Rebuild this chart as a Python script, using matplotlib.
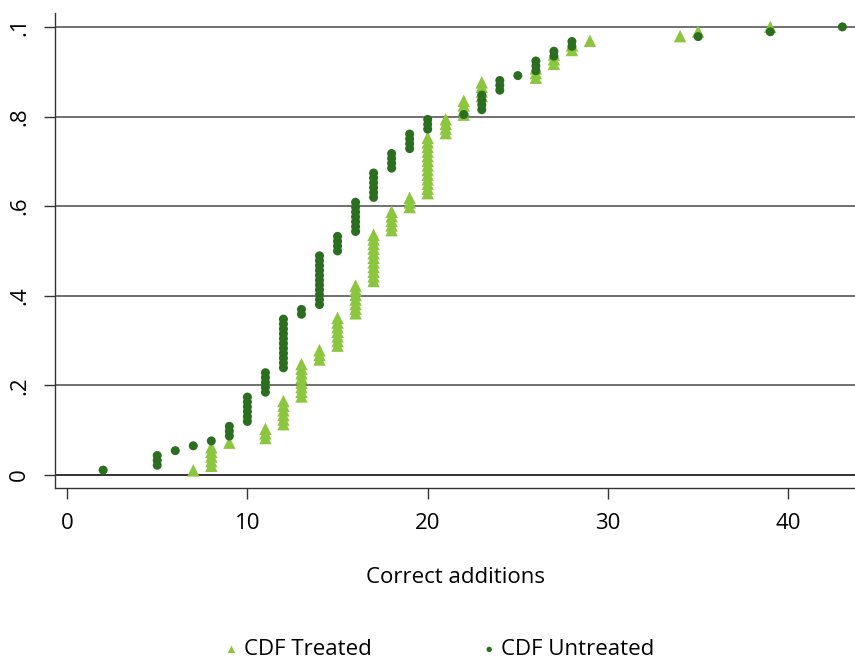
import numpy as np
import matplotlib
matplotlib.use("Agg")
import matplotlib.pyplot as plt

plt.rcParams['font.family'] = ['Open Sans', 'DejaVu Sans']

# CDF data: number of children at each score
treated_x = [7, 8, 9, 11, 12, 13, 14, 15, 16, 17, 18, 19, 20, 21, 22, 23, 26, 27, 28, 29, 34, 35, 39]
treated_n = [1, 5, 1, 3, 6, 8, 3, 7, 7, 11, 5, 3, 13, 4, 4, 4, 3, 3, 2, 1, 1, 1, 1]

untreated_x = [2, 5, 6, 7, 8, 9, 10, 11, 12, 13, 14, 15, 16, 17, 18, 19, 20, 22, 23, 24, 25, 26, 27, 28, 35, 39, 43]
untreated_n = [1, 3, 1, 1, 1, 3, 6, 5, 11, 2, 11, 4, 7, 6, 4, 4, 3, 1, 4, 3, 1, 3, 2, 2, 1, 1, 1]

light = '#8cc63e'
dark = '#2c6e1f'


def cdf_points(xs, ns):
    vals = np.repeat(xs, ns)
    y = np.arange(1, len(vals) + 1) / len(vals)
    return vals, y


tx, ty = cdf_points(treated_x, treated_n)
ux, uy = cdf_points(untreated_x, untreated_n)

fig = plt.figure(figsize=(8.55, 6.63), dpi=100)
ax = fig.add_axes([55 / 855, 1 - 488 / 663, 800 / 855, 475 / 663])

for yv in [0.2, 0.4, 0.6, 0.8, 1.0]:
    ax.axhline(yv, color='#707070', lw=1.4, zorder=1)
ax.axhline(0, color='#333333', lw=1.4, zorder=1)

ax.scatter(tx, ty, marker='^', s=80, color=light, edgecolors='none', zorder=3, label='CDF Treated')
ax.scatter(ux, uy, marker='o', s=42, color=dark, edgecolors='none', zorder=4, label='CDF Untreated')

ax.set_xlim(-0.67, 43.7)
ax.set_ylim(-0.029, 1.031)
ax.set_xticks([0, 10, 20, 30, 40])
ax.set_yticks([0, 0.2, 0.4, 0.6, 0.8, 1.0])
ax.set_yticklabels(['0', '.2', '.4', '.6', '.8', '.1'], rotation=90, va='center')
ax.tick_params(axis='both', labelsize=16, length=8, width=1, color='#333333', pad=10)

for s in ['top', 'right']:
    ax.spines[s].set_visible(False)
for s in ['left', 'bottom']:
    ax.spines[s].set_color('#333333')
    ax.spines[s].set_linewidth(1)

ax.set_xlabel('Correct additions', fontsize=16, labelpad=24)

fig.legend(loc='lower center', bbox_to_anchor=(0.513, -0.026), ncol=2, frameon=False,
           fontsize=16, markerscale=0.6, columnspacing=4.9, handletextpad=0.15, handlelength=0.8)

fig.savefig('out.png', dpi=100)
